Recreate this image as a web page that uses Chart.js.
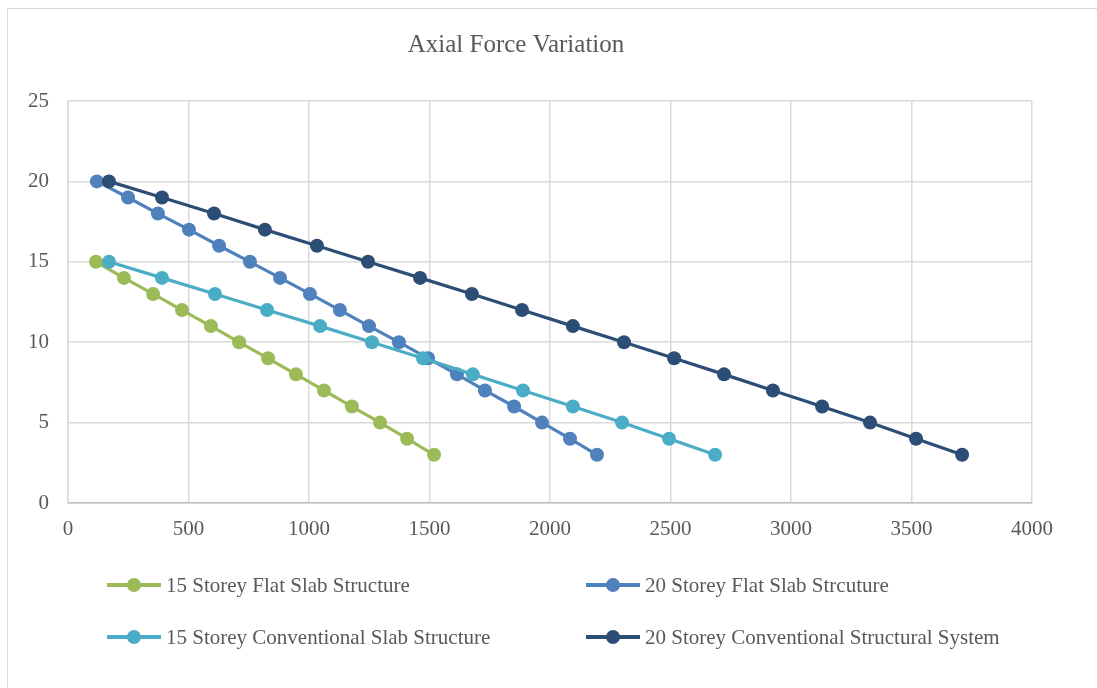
<!DOCTYPE html>
<html>
<head>
<meta charset="utf-8">
<script src="https://cdn.jsdelivr.net/npm/chart.js@4"></script>
<style>
    html, body {
        margin: 0;
        padding: 0;
        background: #ffffff;
    }
    #wrap {
        position: relative;
        width: 1097px;
        height: 688px;
        overflow: hidden;
        font-family: "Liberation Serif", "Times New Roman", serif;
    }
    #frame {
        position: absolute;
        left: 7px;
        top: 8px;
        width: 1200px;
        height: 800px;
        border: 1px solid #d9d9d9;
        box-sizing: border-box;
    }
    #chart {
        position: absolute;
        left: 0;
        top: 0;
    }
    .legend-item {
        position: absolute;
        height: 24px;
        display: flex;
        align-items: center;
        color: #595959;
        font-size: 21px;
        white-space: nowrap;
    }
    .legend-mark {
        position: relative;
        width: 54px;
        height: 24px;
        margin-right: 5px;
    }
    .legend-mark .ln {
        position: absolute;
        left: 0;
        right: 0;
        top: 10px;
        height: 4px;
    }
    .legend-mark .dot {
        position: absolute;
        left: 20px;
        top: 5px;
        width: 14px;
        height: 14px;
        border-radius: 50%;
    }
</style>
</head>
<body>
<div id="wrap">
    <div id="frame"></div>
    <canvas id="chart" width="1097" height="688"></canvas>
    <div id="legend"></div>
</div>
<script>
// Chart data
const chartTitle = 'Axial Force Variation';

const seriesNames = [
    '15 Storey Flat Slab Structure',
    '20 Storey Flat Slab Strcuture',
    '15 Storey Conventional Slab Structure',
    '20 Storey Conventional Structural System'
];

const seriesColors = ['#9BBB59', '#4F81BD', '#4BACC6', '#2C4D75'];

// storey levels (y values)
const levels15 = [15, 14, 13, 12, 11, 10, 9, 8, 7, 6, 5, 4, 3];
const levels20 = [20, 19, 18, 17, 16, 15, 14, 13, 12, 11, 10, 9, 8, 7, 6, 5, 4, 3];

// axial force (x values)
const flat15 = [116, 232, 353, 473, 593, 710, 830, 946, 1062, 1178, 1295, 1407, 1519];
const flat20 = [120, 249, 373, 502, 627, 755, 880, 1004, 1128, 1249, 1373, 1494, 1614, 1730, 1851, 1967, 2083, 2195];
const conv15 = [170, 390, 610, 826, 1046, 1261, 1473, 1680, 1888, 2095, 2299, 2494, 2685];
const conv20 = [170, 390, 606, 817, 1033, 1245, 1461, 1676, 1884, 2095, 2307, 2515, 2722, 2925, 3129, 3328, 3519, 3710];

const xTicks = [0, 500, 1000, 1500, 2000, 2500, 3000, 3500, 4000];
const yTicks = [0, 5, 10, 15, 20, 25];

function toPoints(xs, ys) {
    return xs.map((x, i) => ({ x: x, y: ys[i] }));
}

const seriesData = [
    toPoints(flat15, levels15),
    toPoints(flat20, levels20),
    toPoints(conv15, levels15),
    toPoints(conv20, levels20)
];

const textColor = '#595959';
const gridColor = '#d9d9d9';
const fontFamily = '"Liberation Serif", "Times New Roman", serif';

// draw order: last in list ends up on top
const drawOrder = [3, 2, 1, 0];

const datasets = seriesNames.map((name, i) => ({
    label: name,
    data: seriesData[i],
    showLine: true,
    borderColor: seriesColors[i],
    backgroundColor: seriesColors[i],
    borderWidth: 3.2,
    pointRadius: 7,
    pointHoverRadius: 7,
    pointBorderWidth: 0,
    order: drawOrder[i]
}));

new Chart(document.getElementById('chart'), {
    type: 'scatter',
    data: { datasets: datasets },
    options: {
        responsive: false,
        animation: false,
        layout: {
            padding: { left: 0, right: 65, top: 0, bottom: 0 }
        },
        plugins: {
            legend: { display: false },
            tooltip: { enabled: false },
            title: {
                display: true,
                text: chartTitle,
                color: textColor,
                font: { family: fontFamily, size: 25, weight: 'normal', lineHeight: 1.2 },
                padding: { top: 30, bottom: 41 }
            }
        },
        scales: {
            x: {
                type: 'linear',
                min: 0,
                max: 4000,
                afterBuildTicks: (scale) => {
                    scale.ticks = xTicks.map(v => ({ value: v }));
                },
                afterFit: (scale) => {
                    scale.height = 185;
                },
                grid: {
                    color: gridColor,
                    lineWidth: 1.5,
                    drawTicks: false
                },
                border: { color: '#bfbfbf', width: 1.5 },
                ticks: {
                    color: textColor,
                    padding: 14,
                    font: { family: fontFamily, size: 21 },
                    callback: (value) => String(value)
                }
            },
            y: {
                type: 'linear',
                min: 0,
                max: 25,
                afterBuildTicks: (scale) => {
                    scale.ticks = yTicks.map(v => ({ value: v }));
                },
                afterFit: (scale) => {
                    scale.width = 68;
                },
                grid: {
                    color: gridColor,
                    lineWidth: 1.5,
                    drawTicks: false
                },
                border: { color: gridColor, width: 1.5 },
                ticks: {
                    color: textColor,
                    padding: 19,
                    font: { family: fontFamily, size: 21 },
                    callback: (value) => String(value)
                }
            }
        }
    }
});

// Legend in two columns below the plot
const legendPos = [
    { left: 107, top: 573 },
    { left: 586, top: 573 },
    { left: 107, top: 625 },
    { left: 586, top: 625 }
];
const legendOrder = [0, 1, 2, 3];
const legendDiv = document.getElementById('legend');
legendOrder.forEach((idx, k) => {
    const item = document.createElement('div');
    item.className = 'legend-item';
    item.style.left = legendPos[k].left + 'px';
    item.style.top = legendPos[k].top + 'px';
    item.innerHTML =
        '<div class="legend-mark">' +
        '<div class="ln" style="background:' + seriesColors[idx] + '"></div>' +
        '<div class="dot" style="background:' + seriesColors[idx] + '"></div>' +
        '</div><span></span>';
    item.querySelector('span').textContent = seriesNames[idx];
    legendDiv.appendChild(item);
});
</script>
</body>
</html>
